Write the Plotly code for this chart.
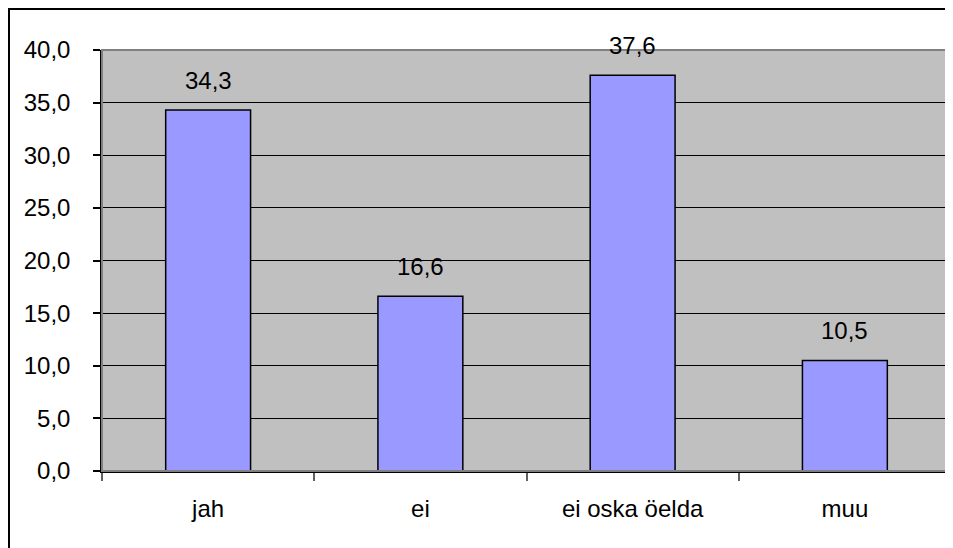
import plotly.graph_objects as go

categories = ["jah", "ei", "ei oska öelda", "muu"]
values = [34.3, 16.6, 37.6, 10.5]
y_ticks = [0, 5, 10, 15, 20, 25, 30, 35, 40]

FONT = "Liberation Sans, Arial, sans-serif"
FS = 24
W, H = 945, 540
L, R, T, B = 94, 2, 42, 77
pw, ph = W - L - R, H - T - B

fig = go.Figure()
fig.add_trace(go.Bar(
    x=categories, y=values,
    marker=dict(color="#9999FF", line=dict(color="black", width=1.5)),
    width=0.4, hoverinfo="skip"
))

for c, v in zip(categories, values):
    fig.add_annotation(x=c, y=v, text=f"{v:.1f}".replace(".", ","), showarrow=False,
                       yanchor="bottom", yshift=14, font=dict(family=FONT, size=FS, color="black"))

# plot-area top/right border (gray)
fig.add_shape(type="rect", xref="paper", yref="paper", x0=0, y0=0, x1=1, y1=1,
              line=dict(color="#808080", width=2), layer="above")
# outer black frame
fx0 = (1 - L) / pw
fy1 = 1 + (T - 1) / ph
fig.add_shape(type="rect", xref="paper", yref="paper", x0=fx0, y0=-0.5, x1=1.2, y1=fy1,
              line=dict(color="black", width=2), layer="above")

fig.update_layout(
    width=W, height=H,
    margin=dict(l=L, r=R, t=T, b=B, pad=0),
    paper_bgcolor="white", plot_bgcolor="#C0C0C0",
    separators=", ",
    showlegend=False,
    font=dict(family=FONT, size=FS, color="black"),
    bargap=0.6,
)
fig.update_xaxes(
    showgrid=False, showline=True, linecolor="black", linewidth=1.5,
    ticks="outside", tickson="boundaries", ticklen=8, tickcolor="#606060", tickwidth=1.5,
    ticklabelstandoff=15, tickfont=dict(family=FONT, size=FS, color="black"),
)
fig.update_yaxes(
    range=[0, 40], tickvals=y_ticks, tickformat=".1f",
    showgrid=True, gridcolor="black", gridwidth=1,
    zeroline=False, showline=True, linecolor="black", linewidth=1.5,
    ticks="outside", ticklen=7, tickcolor="black", tickwidth=1.5,
    ticklabelstandoff=18, tickfont=dict(family=FONT, size=FS, color="black"),
)

fig.write_html("out.html")
